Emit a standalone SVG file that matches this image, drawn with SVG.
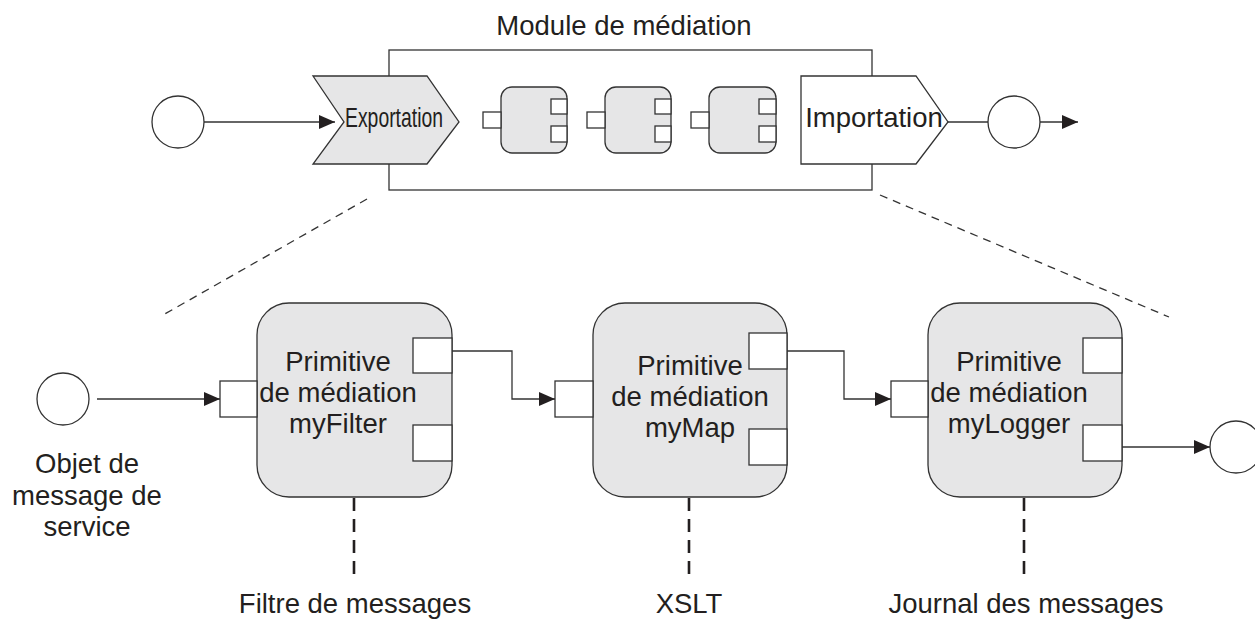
<svg xmlns="http://www.w3.org/2000/svg" width="1255" height="619" viewBox="0 0 1255 619">
<style>
.t{font-family:"Liberation Sans",Arial,sans-serif;font-size:27.5px;fill:#231f20;text-anchor:middle}
.ln{fill:none;stroke:#333;stroke-width:1.3}
.sh{fill:#e6e6e7;stroke:#333;stroke-width:1.3}
.wh{fill:#fff;stroke:#333;stroke-width:1.3}
.dd{fill:none;stroke:#333;stroke-width:1.3;stroke-dasharray:8 6}
.dv{fill:none;stroke:#231f20;stroke-width:2.6;stroke-dasharray:13 8}
</style>
<defs>
<marker id="ah" markerUnits="userSpaceOnUse" markerWidth="16" markerHeight="14" refX="16" refY="7" orient="auto">
<path d="M0,0 L16,7 L0,14 Z" fill="#231f20"/>
</marker>
</defs>
<rect width="1255" height="619" fill="#fff"/>

<g id="module">
<rect x="389" y="50" width="483" height="140" class="ln"/>
<text class="t" x="624" y="35">Module de médiation</text>
</g>
<g id="export">
<polygon points="313,76 427,76 459,122 427,164 313,164 344,122" class="sh"/>
<text class="t" x="394" y="127" textLength="98" lengthAdjust="spacingAndGlyphs">Exportation</text>
</g>
<g id="comp1">
<rect x="501" y="87" width="66" height="66" rx="11" class="sh"/>
<rect x="483" y="112" width="18" height="16" class="wh"/>
<rect x="551" y="99" width="16" height="15" class="wh"/>
<rect x="551" y="126" width="16" height="16" class="wh"/>
</g>
<g id="comp2">
<rect x="605" y="87" width="66" height="66" rx="11" class="sh"/>
<rect x="587" y="112" width="18" height="16" class="wh"/>
<rect x="655" y="99" width="16" height="15" class="wh"/>
<rect x="655" y="126" width="16" height="16" class="wh"/>
</g>
<g id="comp3">
<rect x="709" y="87" width="67" height="66" rx="11" class="sh"/>
<rect x="691" y="112" width="18" height="16" class="wh"/>
<rect x="759" y="99" width="17" height="15" class="wh"/>
<rect x="759" y="126" width="17" height="16" class="wh"/>
</g>
<g id="import">
<polygon points="801,76 916,76 948,122 916,164 801,164" class="wh"/>
<text class="t" x="874" y="127">Importation</text>
</g>
<g id="startTop"><circle cx="178" cy="122" r="26" class="wh"/></g>
<g id="endTop"><circle cx="1014" cy="122" r="26" class="wh"/></g>

<g id="node1">
<rect x="257" y="303" width="195" height="194" rx="32" class="sh"/>
<rect x="220" y="381" width="37" height="36" class="wh"/>
<rect x="413" y="338" width="39" height="35" class="wh"/>
<rect x="413" y="425" width="39" height="36" class="wh"/>
<text class="t" x="338" y="371">Primitive</text>
<text class="t" x="338" y="402">de médiation</text>
<text class="t" x="338" y="433">myFilter</text>
</g>
<g id="node2">
<rect x="593" y="303" width="194" height="194" rx="32" class="sh"/>
<rect x="555" y="381" width="38" height="36" class="wh"/>
<rect x="749" y="333" width="38" height="36" class="wh"/>
<rect x="749" y="429" width="38" height="36" class="wh"/>
<text class="t" x="690" y="375">Primitive</text>
<text class="t" x="690" y="406">de médiation</text>
<text class="t" x="690" y="437">myMap</text>
</g>
<g id="node3">
<rect x="928" y="303" width="194" height="194" rx="32" class="sh"/>
<rect x="891" y="381" width="37" height="36" class="wh"/>
<rect x="1083" y="338" width="39" height="35" class="wh"/>
<rect x="1083" y="425" width="39" height="36" class="wh"/>
<text class="t" x="1009" y="371">Primitive</text>
<text class="t" x="1009" y="402">de médiation</text>
<text class="t" x="1009" y="433">myLogger</text>
</g>
<g id="smo">
<circle cx="63" cy="399" r="26" class="wh"/>
<text class="t" x="87" y="473">Objet de</text>
<text class="t" x="87" y="505">message de</text>
<text class="t" x="87" y="536">service</text>
</g>
<g id="endBottom"><circle cx="1236" cy="447" r="26" class="wh"/></g>
<g id="label1"><text class="t" x="355" y="613">Filtre de messages</text></g>
<g id="label2"><text class="t" x="689" y="613">XSLT</text></g>
<g id="label3"><text class="t" x="1026" y="613">Journal des messages</text></g>

<g id="connectors">
<line x1="204" y1="122" x2="335" y2="122" class="ln" marker-end="url(#ah)"/>
<line x1="948" y1="122" x2="988" y2="122" class="ln"/>
<line x1="1040" y1="122" x2="1078" y2="122" class="ln" marker-end="url(#ah)"/>
<line x1="97" y1="399" x2="220" y2="399" class="ln" marker-end="url(#ah)"/>
<polyline points="452,351 512,351 512,399 555,399" class="ln" marker-end="url(#ah)"/>
<polyline points="787,351 844,351 844,399 891,399" class="ln" marker-end="url(#ah)"/>
<line x1="1122" y1="447" x2="1210" y2="447" class="ln" marker-end="url(#ah)"/>
<line x1="367" y1="199" x2="163" y2="315" class="dd"/>
<line x1="880" y1="195" x2="1169" y2="317" class="dd"/>
<line x1="354" y1="498" x2="354" y2="579" class="dv"/>
<line x1="689" y1="498" x2="689" y2="579" class="dv"/>
<line x1="1024" y1="498" x2="1024" y2="579" class="dv"/>
</g>
</svg>
